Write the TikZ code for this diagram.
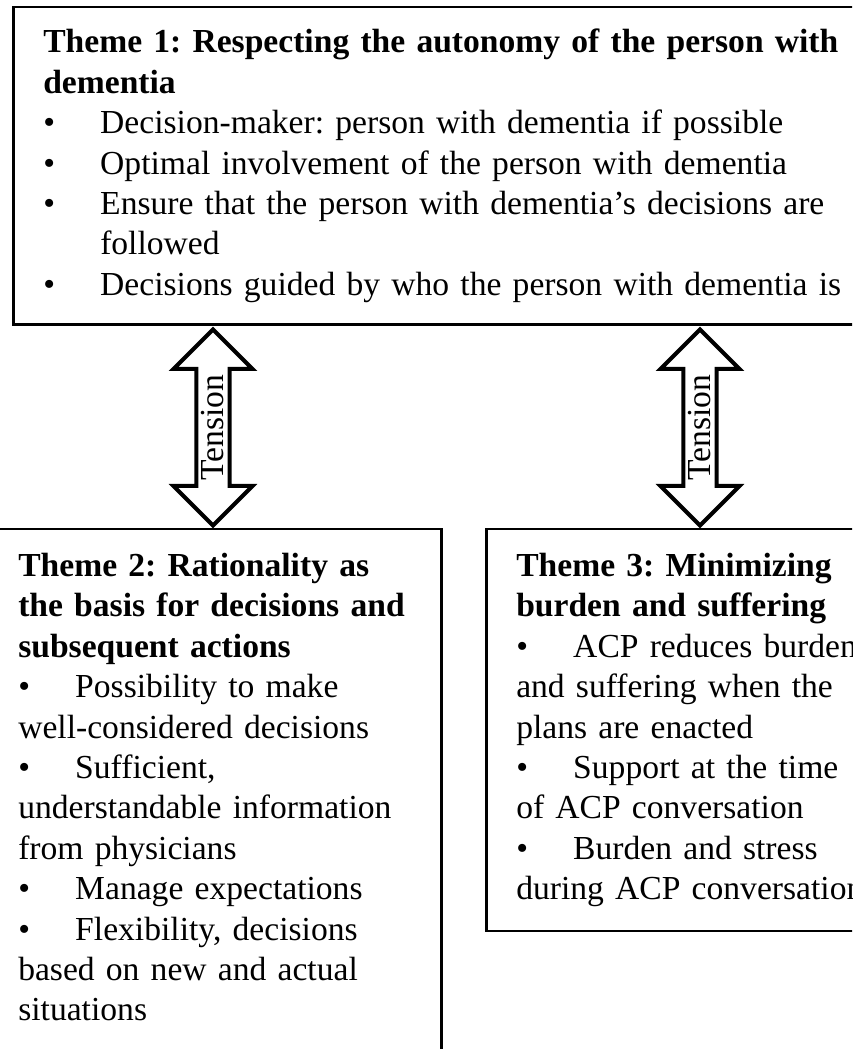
\documentclass[tikz,border=0pt]{standalone}
\usepackage{fontspec}
\setmainfont{Liberation Serif}
\usetikzlibrary{shapes.arrows}
\frenchspacing
\newcommand{\themefont}{\fontsize{33.6}{40.4}\selectfont}
\newcommand{\bul}{\makebox[57pt][l]{\textbullet}}

\begin{document}
\begin{tikzpicture}[
    x=1pt, y=1pt,
    theme/.style={draw, line width=2.5pt, anchor=north west, align=left, inner xsep=30pt, inner ysep=24pt, font=\themefont},
    tensionarrow/.style={double arrow, draw, line width=4pt, rotate=90, minimum height=196pt, minimum width=79pt, double arrow head extend=21pt, inner sep=2pt, font=\themefont},
  ]
    \useasboundingbox (0,0) rectangle (852,1049);
    \clip (0,0) rectangle (852,1049);

    \node[theme, text width=840pt, inner ysep=22pt] (theme1) at (12,1043) {%
      \textbf{Theme 1: Respecting the autonomy of the person with}\\
      \textbf{dementia}\\
      \bul Decision-maker: person with dementia if possible\\
      \bul Optimal involvement of the person with dementia\\
      \bul Ensure that the person with dementia’s decisions are\\
      \hspace*{57pt}followed\\
      \bul Decisions guided by who the person with dementia is};

    \node[theme, text width=393pt] (theme2) at (-13,521) {%
      \textbf{Theme 2: Rationality as}\\
      \textbf{the basis for decisions and}\\
      \textbf{subsequent actions}\\
      \bul Possibility to make\\
      well-considered decisions\\
      \bul Sufficient,\\
      understandable information\\
      from physicians\\
      \bul Manage expectations\\
      \bul Flexibility, decisions\\
      based on new and actual\\
      situations\\
      \mbox{}};

    \node[theme, text width=420pt] (theme3) at (485,521) {%
      \textbf{Theme 3: Minimizing}\\
      \textbf{burden and suffering}\\
      \bul ACP reduces burden\\
      and suffering when the\\
      plans are enacted\\
      \bul Support at the time\\
      of ACP conversation\\
      \bul Burden and stress\\
      during ACP conversation};

    % tension arrows between the themes
    \node[tensionarrow] (tension12) at (213,621.5) {Tension};
    \node[tensionarrow] (tension13) at (700,621.5) {Tension};
\end{tikzpicture}
\end{document}
